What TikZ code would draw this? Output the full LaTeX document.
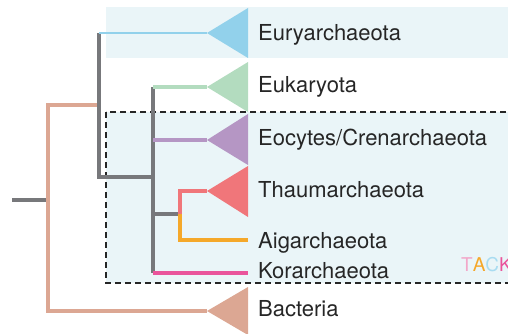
\documentclass[tikz,border=0pt]{standalone}
\usepackage{fontspec}
\setmainfont{TeX Gyre Heros}
\usetikzlibrary{positioning}

\definecolor{treegray}{HTML}{77787B}
\definecolor{bgblue}{HTML}{EAF5F8}
\definecolor{euryblue}{HTML}{92D1EB}
\definecolor{eukgreen}{HTML}{B3DCBF}
\definecolor{eocpurple}{HTML}{B596C4}
\definecolor{thaumred}{HTML}{F0767A}
\definecolor{aigorange}{HTML}{F5A82A}
\definecolor{korpink}{HTML}{EA549B}
\definecolor{bacpeach}{HTML}{DCA793}
\definecolor{tackpink}{HTML}{F2A7C9}
\definecolor{tackblue}{HTML}{A9DCF1}

\tikzset{
  branch/.style={line width=3.5pt},
  taxon/.style={anchor=base west, inner sep=0pt, text=black!85,
    font=\fontsize{22}{24}\selectfont},
}

\begin{document}
\begin{tikzpicture}[x=1pt, y=-1pt]
  \useasboundingbox (0,0) rectangle (508,334);
  \clip (0,0) rectangle (508,334);

  % 1. shaded backgrounds
  \fill[bgblue] (106,7) rectangle (520,58);
  \fill[bgblue] (106,112) rectangle (520,283);
  \draw[line width=1.5pt, dash pattern=on 6pt off 4pt, black!85] (106,112) rectangle (520,283);

  % 2. junctions and tips
  \coordinate (root) at (12,200);
  \coordinate (n0) at (48,200);
  \coordinate (n1) at (99,105);
  \coordinate (n2) at (153,177);
  \coordinate (n3) at (180,214);
  \coordinate (eury) at (207,33);
  \coordinate (euk) at (207,87);
  \coordinate (eoc) at (207,140);
  \coordinate (thaum) at (207,191);
  \coordinate (aig) at (248,240);
  \coordinate (kor) at (248,273);
  \coordinate (bac) at (207,311);

  % 3. branches
  \draw[branch, treegray] (root) -- (n0);
  \draw[branch, bacpeach] (n1) -| (n0) |- (bac);
  \draw[branch, treegray] (n1 |- eury) -- (n1 |- n2) -- (n2);
  \draw[line width=2.2pt, euryblue] (n1 |- eury) -- (eury);
  \draw[branch, treegray] (n2 |- euk) -- (n2 |- kor) ;
  \draw[branch, treegray] (n2 |- n3) -- (n3);
  \draw[branch, eukgreen] (n2 |- euk) -- (euk);
  \draw[branch, eocpurple] (n2 |- eoc) -- (eoc);
  \draw[branch, thaumred] (n3) |- (thaum);
  \draw[branch, aigorange] (n3) |- (aig);
  \draw[branch, korpink] (n2 |- kor) -- (kor);

  % 4. clade triangles
  \fill[euryblue] (eury) -- ++(41,-25) -- ++(0,50) -- cycle;
  \fill[eukgreen] (euk) -- ++(41,-25) -- ++(0,50) -- cycle;
  \fill[eocpurple] (eoc) -- ++(41,-26) -- ++(0,51) -- cycle;
  \fill[thaumred] (thaum) -- ++(41,-25) -- ++(0,51) -- cycle;
  \fill[bacpeach] (bac) -- ++(41,-24) -- ++(0,48) -- cycle;

  % 5. labels
  \node[taxon] (l-eury) at (258,41) {Euryarchaeota};
  \node[taxon] (l-euk) at (258,93) {Eukaryota};
  \node[taxon] (l-eoc) at (258,145) {Eocytes/Crenarchaeota};
  \node[taxon] (l-thaum) at (258,197) {Thaumarchaeota};
  \node[taxon] (l-aig) at (258,248) {Aigarchaeota};
  \node[taxon] (l-kor) at (258,278) {Korarchaeota};
  \node[taxon] (l-bac) at (258,316) {Bacteria};
  \node[taxon, font=\fontsize{19}{21}\selectfont] (tack) at (461,271)
    {\textcolor{tackpink}{T}\textcolor{aigorange}{A}\textcolor{tackblue}{C}\textcolor{korpink}{K}};
\end{tikzpicture}
\end{document}
